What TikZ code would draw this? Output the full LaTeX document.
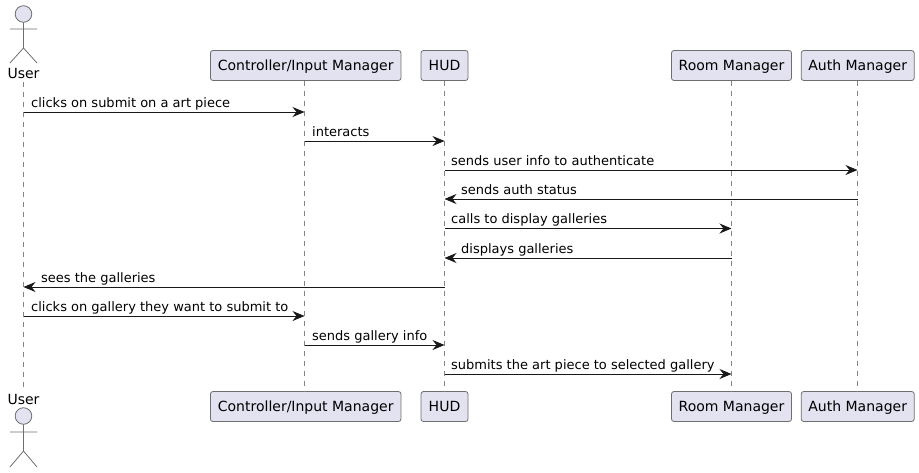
\documentclass[tikz,border=0pt]{standalone}
\usepackage{fontspec}
\setmainfont{DejaVu Sans}
\usetikzlibrary{arrows.meta}
\definecolor{boxfill}{HTML}{E2E2F0}
\definecolor{ink}{HTML}{181818}
\definecolor{soft}{HTML}{6E6E6E}
\tikzset{
  part/.style={draw=soft,line width=0.8pt,fill=boxfill,rounded corners=2.5pt,inner sep=0pt,minimum height=30pt,font=\fontsize{14}{16}\selectfont,text=black,text height=11.5pt,text depth=2.5pt},
  life/.style={draw=soft!85,line width=0.7pt,dash pattern=on 5pt off 5pt},
  msg/.style={draw=ink,line width=0.9pt,-{Stealth[length=12pt,width=10pt,inset=4pt]}},
  lbl/.style={anchor=base west,inner sep=0pt,font=\fontsize{13}{15}\selectfont,text=black},
  actortext/.style={anchor=base,inner sep=0pt,font=\fontsize{14}{16}\selectfont,text=black},
  stick/.style={draw=soft,line width=0.8pt},
}
\begin{document}
\begin{tikzpicture}[x=1pt,y=-1pt]
\useasboundingbox (0,0) rectangle (919,472);
% participants
\node[actortext] (ut) at (23.5,78) {User};
\node[actortext] (ub) at (23.5,404) {User};
\node[part,minimum width=190.5pt] (ct) at (305.7,65.5) {Controller/Input Manager};
\node[part,minimum width=190.5pt] (cb) at (305.7,406.5) {Controller/Input Manager};
\node[part,minimum width=47pt] (ht) at (444.5,65.5) {HUD};
\node[part,minimum width=47pt] (hb) at (444.5,406.5) {HUD};
\node[part,minimum width=120pt] (rt) at (731.5,65.5) {Room Manager};
\node[part,minimum width=120pt] (rb) at (731.5,406.5) {Room Manager};
\node[part,minimum width=113pt] (at) at (857.7,65.5) {Auth Manager};
\node[part,minimum width=113pt] (ab) at (857.7,406.5) {Auth Manager};
% lifeline anchors
\coordinate (ul1) at (23.5,82);
\coordinate (ul2) at (23.5,391);
\coordinate (cl1) at (304.5,80.5);
\coordinate (cl2) at (304.5,391.5);
\coordinate (hl1) at (444.5,80.5);
\coordinate (hl2) at (444.5,391.5);
\coordinate (rl1) at (731.5,80.5);
\coordinate (rl2) at (731.5,391.5);
\coordinate (al1) at (857.5,80.5);
\coordinate (al2) at (857.5,391.5);
\draw[life] (ul1) -- (ul2);
\draw[life] (cl1) -- (cl2);
\draw[life] (hl1) -- (hl2);
\draw[life] (rl1) -- (rl2);
\draw[life] (al1) -- (al2);
% actors
\draw[stick,fill=boxfill] (23.5,14) circle (8.3pt);
\draw[stick] (23.5,22.3) -- (23.5,48) (10,29) -- (37,29) (10,63) -- (23.5,48) -- (37,63);
\draw[stick,fill=boxfill] (23.5,416) circle (8.3pt);
\draw[stick] (23.5,424.3) -- (23.5,451) (10,432) -- (37,432) (10,467) -- (23.5,451) -- (37,467);
% messages
\foreach \n/\y/\xa/\xb in {1/112/23.5/304.5,2/141/304.5/444.5,3/170/444.5/857.5,4/199/857.5/444.5,5/228.5/444.5/731.5,6/258/731.5/444.5,7/287/444.5/23.5,8/316/23.5/304.5,9/345/304.5/444.5,10/374/444.5/731.5}{
  \coordinate (m\n a) at (\xa,\y);
  \coordinate (m\n b) at (\xb,\y);
  \draw[msg] (m\n a) -- (m\n b);
}
\node[lbl] (t1) at (31,107) {clicks on submit on a art piece};
\node[lbl] (t2) at (312,136) {interacts};
\node[lbl] (t3) at (451,165) {sends user info to authenticate};
\node[lbl] (t4) at (461,194) {sends auth status};
\node[lbl] (t5) at (451,223.5) {calls to display galleries};
\node[lbl] (t6) at (461,253) {displays galleries};
\node[lbl] (t7) at (41,282) {sees the galleries};
\node[lbl] (t8) at (31,311) {clicks on gallery they want to submit to};
\node[lbl] (t9) at (312,340) {sends gallery info};
\node[lbl] (t10) at (451,369) {submits the art piece to selected gallery};
\end{tikzpicture}
\end{document}
